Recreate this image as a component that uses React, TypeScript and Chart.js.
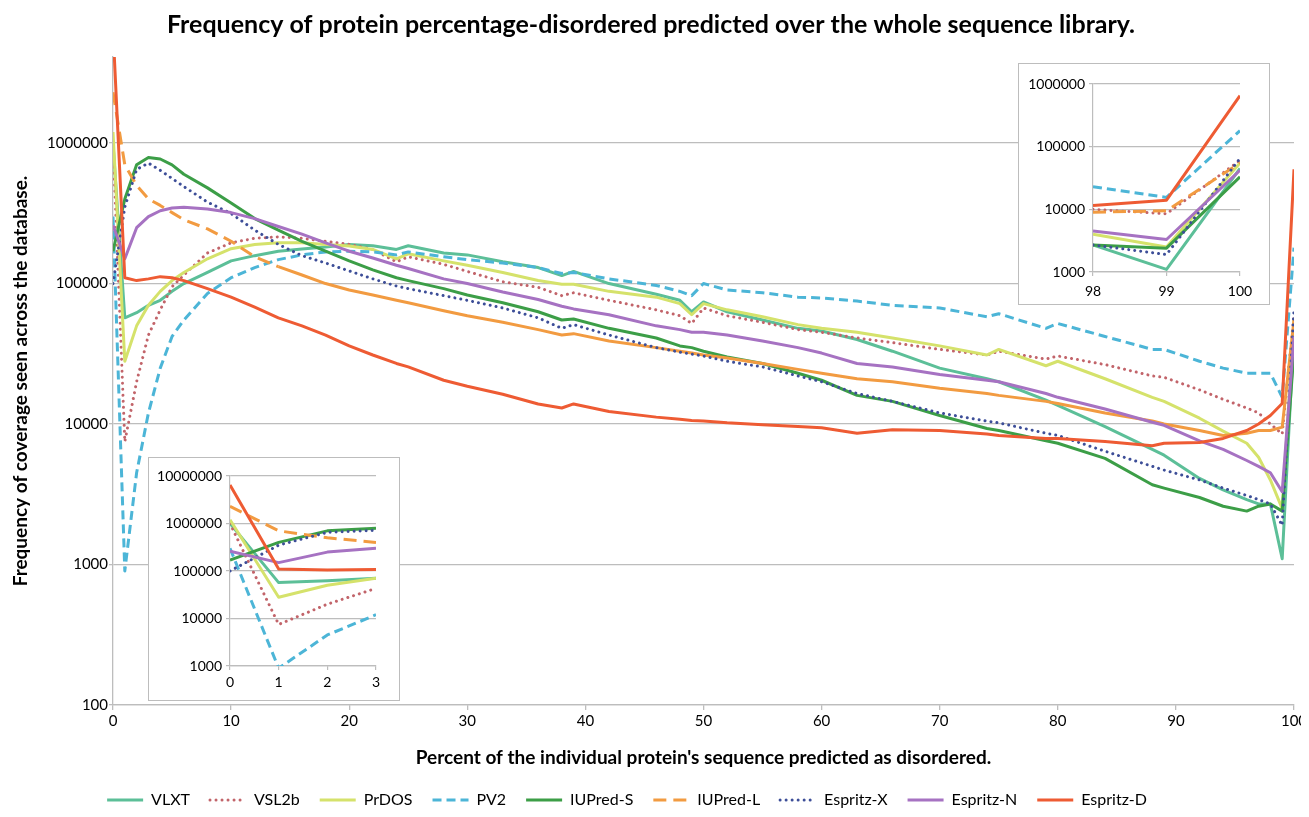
import React, { useEffect, useRef } from "react";
import { Chart, registerables } from "chart.js";

Chart.register(...registerables);

const FONT = "Lato, 'Open Sans', sans-serif";
const GRID = "#bdbdbd";

const chartTitle = "Frequency of protein percentage-disordered predicted over the whole sequence library.";
const xTitle = "Percent of the individual protein's sequence predicted as disordered.";
const yTitle = "Frequency of coverage seen across the database.";

const percentDisordered = [0, 1, 2, 3, 4, 5, 6, 8, 10, 12, 14, 16, 18, 20, 22, 24, 25, 28, 30, 33, 36, 38, 39, 42, 46, 48, 49, 50, 52, 55, 58, 60, 63, 66, 70, 74, 75, 79, 80, 84, 88, 89, 92, 94, 96, 97, 98, 99, 100];

const seriesNames = ["VLXT", "VSL2b", "PrDOS", "PV2", "IUPred-S", "IUPred-L", "Espritz-X", "Espritz-N", "Espritz-D"];

const vlxt = [1000000, 57000, 62000, 70000, 76000, 88000, 100000, 120000, 145000, 158000, 170000, 176000, 182000, 190000, 186000, 175000, 186000, 165000, 160000, 143000, 130000, 114000, 122000, 100000, 84000, 76000, 63000, 74000, 63000, 55000, 48000, 46000, 40000, 33000, 25000, 21000, 20000, 14800, 13600, 9600, 6600, 6000, 4100, 3400, 2900, 2700, 2700, 1100, 45000];
const vsl2b = [1000000, 7500, 20000, 43000, 65000, 95000, 115000, 165000, 195000, 210000, 215000, 210000, 200000, 190000, 175000, 143000, 155000, 137000, 122000, 103000, 94000, 82000, 86000, 76000, 65000, 59000, 52000, 67000, 59000, 53000, 47000, 45000, 41000, 38000, 34000, 31000, 33000, 29000, 30500, 26500, 22000, 21500, 17500, 15000, 13000, 12000, 10000, 8500, 60000];
const prdos = [1200000, 28000, 50000, 70000, 88000, 105000, 120000, 150000, 177000, 190000, 195000, 195000, 190000, 185000, 175000, 150000, 163000, 145000, 135000, 120000, 105000, 99000, 99000, 88000, 80000, 72000, 60000, 72000, 65000, 58000, 51000, 48000, 45000, 41000, 36000, 31000, 34000, 26000, 28000, 21000, 15500, 14500, 11000, 8900, 7300, 5800, 4000, 2500, 55000];
const pv2 = [300000, 900, 4500, 12000, 25000, 42000, 55000, 85000, 110000, 130000, 148000, 160000, 168000, 170000, 168000, 160000, 168000, 155000, 148000, 140000, 130000, 118000, 120000, 108000, 97000, 88000, 82000, 100000, 90000, 86000, 80000, 79000, 75000, 70000, 67000, 58000, 61000, 48000, 52000, 42000, 34000, 34000, 28000, 25000, 23000, 23000, 23000, 15500, 180000];
const iupredS = [170000, 400000, 700000, 790000, 770000, 700000, 600000, 480000, 375000, 290000, 240000, 200000, 170000, 145000, 125000, 110000, 105000, 92000, 83000, 73000, 63000, 55000, 56000, 48000, 41000, 36000, 35000, 33000, 30000, 27000, 23000, 20500, 16000, 14500, 11500, 9300, 9000, 7600, 7300, 5700, 3700, 3500, 3000, 2600, 2400, 2600, 2700, 2400, 33000];
const iupredL = [2300000, 700000, 500000, 400000, 360000, 320000, 285000, 245000, 200000, 155000, 132000, 115000, 100000, 90000, 83000, 76000, 73000, 64000, 59000, 53000, 47000, 43000, 44000, 39000, 35000, 33000, 32000, 31000, 29500, 27000, 24500, 23000, 21000, 20000, 18000, 16500, 16000, 14500, 14000, 12000, 10500, 10000, 9000, 8300, 8600, 9000, 9000, 9500, 55000];
const espritzX = [100000, 350000, 650000, 720000, 640000, 560000, 490000, 380000, 315000, 240000, 190000, 158000, 140000, 123000, 108000, 96000, 92000, 82000, 76000, 67000, 57000, 48000, 51000, 43000, 35000, 32500, 31500, 30500, 28000, 25500, 22000, 20000, 16500, 14500, 12000, 10500, 10200, 8600, 8300, 6400, 5000, 4700, 4000, 3500, 3100, 2900, 2700, 1900, 65000];
const espritzN = [260000, 150000, 250000, 300000, 330000, 345000, 350000, 340000, 320000, 290000, 255000, 225000, 195000, 170000, 152000, 135000, 128000, 108000, 100000, 87000, 77000, 69000, 66000, 60000, 50000, 47000, 45000, 45000, 43000, 39000, 35000, 32000, 27000, 25500, 22500, 20500, 20000, 16500, 15500, 12800, 10300, 9800, 7600, 6600, 5500, 5000, 4500, 3300, 42000];
const espritzD = [6500000, 110000, 105000, 108000, 112000, 110000, 105000, 92000, 80000, 68000, 57000, 50000, 43000, 36000, 31000, 27000, 25500, 20500, 18600, 16300, 13900, 13000, 13900, 12300, 11200, 10800, 10600, 10500, 10200, 9900, 9600, 9400, 8600, 9100, 9000, 8500, 8300, 7900, 7900, 7500, 7000, 7300, 7400, 7900, 9000, 10000, 11500, 14000, 650000];

const mainXTicks = [0, 10, 20, 30, 40, 50, 60, 70, 80, 90, 100];
const mainYTicks = [100, 1000, 10000, 100000, 1000000];
const leftInsetXTicks = [0, 1, 2, 3];
const leftInsetYTicks = [1000, 10000, 100000, 1000000, 10000000];
const rightInsetXTicks = [98, 99, 100];
const rightInsetYTicks = [1000, 10000, 100000, 1000000];

const allSeries = [vlxt, vsl2b, prdos, pv2, iupredS, iupredL, espritzX, espritzN, espritzD];

const seriesColors = ["#5cbf98", "#c2646a", "#d5e26b", "#4cb5d7", "#3c9e47", "#f29b41", "#3d4e98", "#a672c2", "#ee5b33"];
const DOT = [0.01, 6];
const seriesDash: number[][] = [[], DOT, [], [9, 5], [], [13, 7], DOT, [], []];
const seriesCap = ["butt", "round", "butt", "butt", "butt", "butt", "round", "butt", "butt"];

function zeroPad(s: any) {
  s.paddingLeft = 0;
  s.paddingRight = 0;
  s.paddingTop = 0;
  s.paddingBottom = 0;
}

function buildDatasets(lo: number, hi: number, main: boolean) {
  return seriesNames.map((name, i) => {
    const ds: any = {
      label: name,
      data: percentDisordered
        .map((x, k) => ({ x, y: allSeries[i][k] }))
        .filter((p) => p.x >= lo && p.x <= hi),
      borderColor: seriesColors[i],
      backgroundColor: seriesColors[i],
      borderWidth: 3,
      borderDash: seriesDash[i],
      borderCapStyle: seriesCap[i],
      borderJoinStyle: "round",
      pointRadius: 0,
      pointHoverRadius: 0,
      tension: 0,
      fill: false,
      order: 9 - i,
    };
    if (main && name === "IUPred-L") {
      ds.segment = { borderDash: (ctx: any) => (ctx.p0.parsed.x >= 14 ? [] : undefined) };
    }
    return ds;
  });
}

function legendItems() {
  return seriesNames.map((name, i) => ({
    text: name,
    fillStyle: seriesColors[i],
    strokeStyle: seriesColors[i],
    lineWidth: 3,
    lineDash: seriesDash[i],
    lineCap: seriesCap[i],
    pointStyle: "line",
    hidden: false,
    datasetIndex: i,
    fontColor: "#000",
  }));
}

const legendShift = {
  id: "legendShift",
  afterLayout(chart: any) {
    if (chart.legend) {
      chart.legend.left -= 24;
      chart.legend.right -= 24;
    }
  },
};

function mainConfig(): any {
  return {
    type: "line",
    data: { datasets: buildDatasets(0, 100, true) },
    plugins: [legendShift],
    options: {
      animation: false,
      responsive: false,
      events: [],
      layout: { padding: { left: 0, right: 15, top: 0, bottom: 0 } },
      plugins: {
        title: {
          display: true,
          text: chartTitle,
          color: "#000",
          font: { family: FONT, size: 25, weight: "bold", lineHeight: 1.2 },
          padding: { top: 2, bottom: 17 },
        },
        legend: {
          position: "bottom",
          labels: {
            usePointStyle: true,
            pointStyle: "line",
            pointStyleWidth: 36,
            padding: 20,
            color: "#000",
            font: { family: FONT, size: 16 },
            generateLabels: legendItems,
          },
        },
        tooltip: { enabled: false },
      },
      scales: {
        x: {
          type: "linear",
          min: 0,
          max: 100,
          afterBuildTicks: (s: any) => {
            s.ticks = mainXTicks.map((v) => ({ value: v }));
          },
          afterFit: (s: any) => {
            s.height = 67;
            zeroPad(s);
          },
          grid: { drawOnChartArea: false, drawTicks: true, tickLength: 5, color: GRID, lineWidth: 1.3 },
          border: { display: true, color: GRID, width: 1.3 },
          ticks: { color: "#000", font: { family: FONT, size: 15 }, padding: 2, maxRotation: 0, autoSkip: false },
          title: {
            display: true,
            text: xTitle,
            color: "#000",
            font: { family: FONT, size: 19, weight: "bold", lineHeight: 1 },
            padding: { top: 0, bottom: 5 },
          },
        },
        y: {
          type: "logarithmic",
          min: 100,
          max: 4100000,
          afterBuildTicks: (s: any) => {
            s.ticks = mainYTicks.map((v) => ({ value: v }));
          },
          afterFit: (s: any) => {
            s.width = 105;
            zeroPad(s);
          },
          grid: { color: GRID, lineWidth: 1.3, drawTicks: true, tickLength: 4 },
          border: { display: true, color: GRID, width: 1.3 },
          ticks: { color: "#000", font: { family: FONT, size: 15 }, padding: 1, autoSkip: false, callback: (v: any) => String(v) },
          title: {
            display: true,
            text: yTitle,
            color: "#000",
            font: { family: FONT, size: 19, weight: "bold", lineHeight: 1.2 },
            padding: { top: 1, bottom: 0 },
          },
        },
      },
    },
  };
}

function insetConfig(lo: number, hi: number, xTicks: number[], yTicks: number[], p: any): any {
  return {
    type: "line",
    data: { datasets: buildDatasets(lo, hi, false) },
    options: {
      animation: false,
      responsive: false,
      events: [],
      layout: { padding: { left: 0, right: p.right, top: p.top, bottom: 0 } },
      plugins: { legend: { display: false }, title: { display: false }, tooltip: { enabled: false } },
      scales: {
        x: {
          type: "linear",
          min: lo,
          max: hi,
          afterBuildTicks: (s: any) => {
            s.ticks = xTicks.map((v) => ({ value: v }));
          },
          afterFit: (s: any) => {
            s.height = p.xHeight;
            zeroPad(s);
          },
          grid: { drawOnChartArea: false, drawTicks: true, tickLength: 4, color: GRID, lineWidth: 1.2 },
          border: { display: true, color: GRID, width: 1.2 },
          ticks: { color: "#000", font: { family: FONT, size: 14 }, padding: p.xPad, maxRotation: 0, autoSkip: false },
        },
        y: {
          type: "logarithmic",
          min: yTicks[0],
          max: yTicks[yTicks.length - 1],
          afterBuildTicks: (s: any) => {
            s.ticks = yTicks.map((v) => ({ value: v }));
          },
          afterFit: (s: any) => {
            s.width = p.yWidth;
            zeroPad(s);
          },
          grid: { color: GRID, lineWidth: 1.2, drawTicks: true, tickLength: 4 },
          border: { display: true, color: GRID, width: 1.2 },
          ticks: { color: "#000", font: { family: FONT, size: 14 }, padding: 4, autoSkip: false, callback: (v: any) => String(v) },
        },
      },
    },
  };
}

export default function App() {
  const mainRef = useRef<HTMLCanvasElement>(null);
  const leftRef = useRef<HTMLCanvasElement>(null);
  const rightRef = useRef<HTMLCanvasElement>(null);

  useEffect(() => {
    const charts = [
      new Chart(mainRef.current as HTMLCanvasElement, mainConfig()),
      new Chart(
        leftRef.current as HTMLCanvasElement,
        insetConfig(0, 3, leftInsetXTicks, leftInsetYTicks, { right: 23, top: 18, xHeight: 34, yWidth: 81, xPad: 4 })
      ),
      new Chart(
        rightRef.current as HTMLCanvasElement,
        insetConfig(98, 100, rightInsetXTicks, rightInsetYTicks, { right: 29, top: 20, xHeight: 32, yWidth: 74, xPad: 7 })
      ),
    ];
    return () => charts.forEach((c) => c.destroy());
  }, []);

  const boxStyle: React.CSSProperties = {
    position: "absolute",
    border: "1px solid #bdbdbd",
    background: "#fff",
    boxSizing: "border-box",
  };

  return (
    <div style={{ position: "relative", width: 1301, height: 801, overflow: "hidden" }}>
      <canvas ref={mainRef} width={1301} height={810} style={{ display: "block" }} />
      <div style={{ ...boxStyle, left: 140, top: 449, width: 252, height: 244 }}>
        <canvas ref={leftRef} width={250} height={242} style={{ display: "block" }} />
      </div>
      <div style={{ ...boxStyle, left: 1010, top: 55, width: 252, height: 242 }}>
        <canvas ref={rightRef} width={250} height={240} style={{ display: "block" }} />
      </div>
    </div>
  );
}
